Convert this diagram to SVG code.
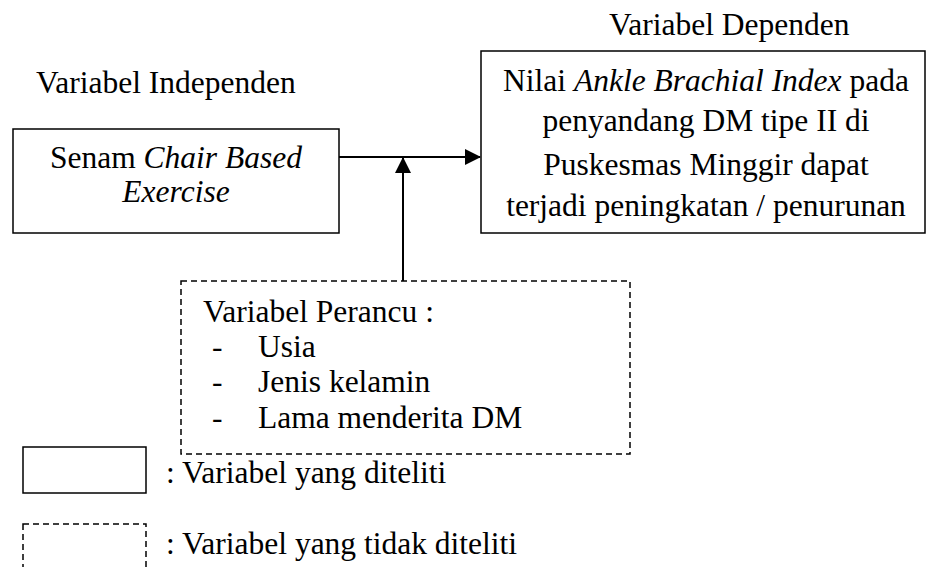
<svg xmlns="http://www.w3.org/2000/svg" width="927" height="567" viewBox="0 0 927 567">
<style>
text{font-family:"Liberation Serif","Times New Roman",serif;font-size:31.5px;fill:#000}
.i{font-style:italic}
.box{fill:#fff;stroke:#000;stroke-width:1.5}
.dash{fill:#fff;stroke:#000;stroke-width:1.5;stroke-dasharray:6 4}
.ln{stroke:#000;stroke-width:2;fill:none}
</style>
<defs>
<marker id="ah" markerWidth="16" markerHeight="16" viewBox="0 0 16 16" refX="15" refY="8" orient="auto" markerUnits="userSpaceOnUse">
<path d="M0,0 L16,8 L0,16 Z" fill="#000"/>
</marker>
</defs>
<text x="36" y="93">Variabel Independen</text>
<text x="609" y="35">Variabel Dependen</text>
<g id="connectors">
<line class="ln" x1="339" y1="157" x2="480" y2="157" marker-end="url(#ah)"/>
<line class="ln" x1="403" y1="281" x2="403" y2="158" marker-end="url(#ah)"/>
</g>
<g id="independen">
<rect class="box" x="13" y="129" width="326" height="104"/>
<text x="176" y="168" text-anchor="middle">Senam <tspan class="i">Chair Based</tspan></text>
<text x="176" y="202" text-anchor="middle" class="i">Exercise</text>
</g>
<g id="dependen">
<rect class="box" x="481" y="51" width="444" height="182"/>
<text x="706" y="91" text-anchor="middle">Nilai <tspan class="i">Ankle Brachial Index</tspan> pada</text>
<text x="706" y="131" text-anchor="middle">penyandang DM tipe II di</text>
<text x="706" y="175" text-anchor="middle">Puskesmas Minggir dapat</text>
<text x="706" y="216" text-anchor="middle">terjadi peningkatan / penurunan</text>
</g>
<g id="perancu">
<rect class="dash" x="181" y="281" width="449" height="173"/>
<text x="203" y="322">Variabel Perancu :</text>
<text x="212" y="357">-</text><text x="258" y="357">Usia</text>
<text x="212" y="392">-</text><text x="258" y="392">Jenis kelamin</text>
<text x="212" y="428">-</text><text x="258" y="428">Lama menderita DM</text>
</g>
<g id="legend-diteliti">
<rect class="box" x="23" y="447" width="123" height="46"/>
<text x="166" y="483">: Variabel yang diteliti</text>
</g>
<g id="legend-tidak">
<rect class="dash" x="23" y="524" width="123" height="60"/>
<text x="166" y="554">: Variabel yang tidak diteliti</text>
</g>
</svg>
